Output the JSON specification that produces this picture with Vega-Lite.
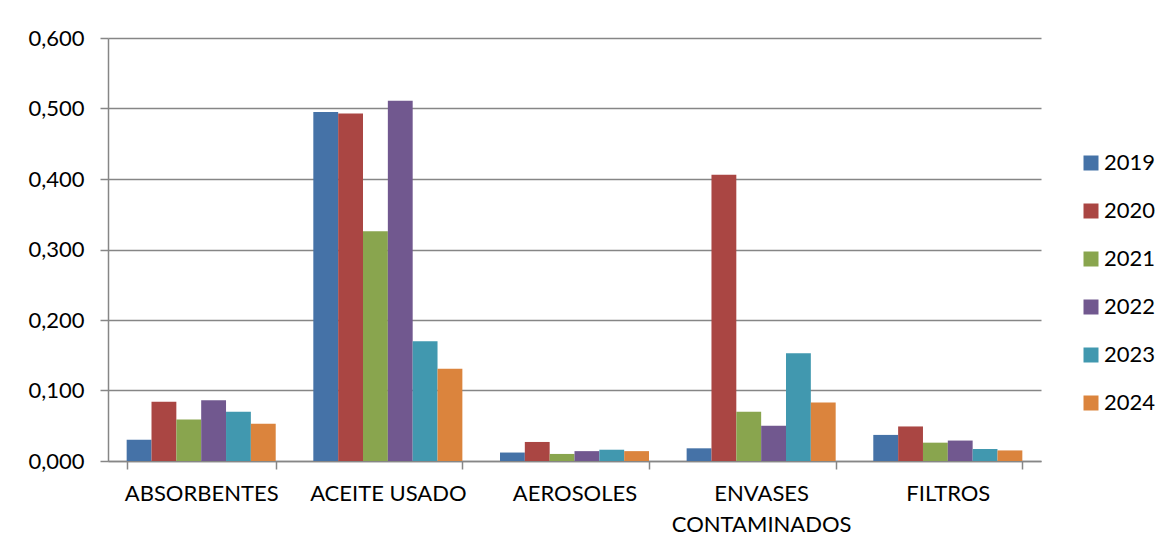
{
  "$schema": "https://vega.github.io/schema/vega-lite/v6.json",
  "width": 933,
  "height": 423,
  "autosize": {"type": "none"},
  "padding": {"left": 108, "top": 38, "right": 131, "bottom": 94},
  "background": "white",
  "config": {
    "locale": {"number": {"decimal": ",", "thousands": ".", "grouping": [3], "currency": ["", "€"]}},
    "view": {"stroke": null},
    "font": "Lato"
  },
  "data": {
    "values": [
      {"categoria": "ABSORBENTES", "anio": "2019", "valor": 0.030},
      {"categoria": "ABSORBENTES", "anio": "2020", "valor": 0.084},
      {"categoria": "ABSORBENTES", "anio": "2021", "valor": 0.059},
      {"categoria": "ABSORBENTES", "anio": "2022", "valor": 0.086},
      {"categoria": "ABSORBENTES", "anio": "2023", "valor": 0.070},
      {"categoria": "ABSORBENTES", "anio": "2024", "valor": 0.053},
      {"categoria": "ACEITE USADO", "anio": "2019", "valor": 0.495},
      {"categoria": "ACEITE USADO", "anio": "2020", "valor": 0.493},
      {"categoria": "ACEITE USADO", "anio": "2021", "valor": 0.326},
      {"categoria": "ACEITE USADO", "anio": "2022", "valor": 0.511},
      {"categoria": "ACEITE USADO", "anio": "2023", "valor": 0.170},
      {"categoria": "ACEITE USADO", "anio": "2024", "valor": 0.131},
      {"categoria": "AEROSOLES", "anio": "2019", "valor": 0.012},
      {"categoria": "AEROSOLES", "anio": "2020", "valor": 0.027},
      {"categoria": "AEROSOLES", "anio": "2021", "valor": 0.010},
      {"categoria": "AEROSOLES", "anio": "2022", "valor": 0.014},
      {"categoria": "AEROSOLES", "anio": "2023", "valor": 0.016},
      {"categoria": "AEROSOLES", "anio": "2024", "valor": 0.014},
      {"categoria": "ENVASES CONTAMINADOS", "anio": "2019", "valor": 0.018},
      {"categoria": "ENVASES CONTAMINADOS", "anio": "2020", "valor": 0.406},
      {"categoria": "ENVASES CONTAMINADOS", "anio": "2021", "valor": 0.070},
      {"categoria": "ENVASES CONTAMINADOS", "anio": "2022", "valor": 0.050},
      {"categoria": "ENVASES CONTAMINADOS", "anio": "2023", "valor": 0.153},
      {"categoria": "ENVASES CONTAMINADOS", "anio": "2024", "valor": 0.083},
      {"categoria": "FILTROS", "anio": "2019", "valor": 0.037},
      {"categoria": "FILTROS", "anio": "2020", "valor": 0.049},
      {"categoria": "FILTROS", "anio": "2021", "valor": 0.026},
      {"categoria": "FILTROS", "anio": "2022", "valor": 0.029},
      {"categoria": "FILTROS", "anio": "2023", "valor": 0.017},
      {"categoria": "FILTROS", "anio": "2024", "valor": 0.015}
    ]
  },
  "mark": {"type": "bar"},
  "encoding": {
    "x": {
      "field": "categoria",
      "type": "nominal",
      "sort": null,
      "scale": {"paddingInner": 0.2015, "paddingOuter": 0.1},
      "axis": {
        "title": null,
        "labelAngle": 0,
        "labelFontSize": 22,
        "labelColor": "#000000",
        "labelFont": "Lato",
        "labelPadding": 14,
        "labelLimit": 300,
        "labelLineHeight": 31,
        "labelExpr": "datum.label == 'ENVASES CONTAMINADOS' ? ['ENVASES', 'CONTAMINADOS'] : datum.label",
        "tickBand": "extent",
        "tickSize": 8,
        "tickColor": "#868686",
        "tickWidth": 1.5,
        "domainColor": "#868686",
        "domainWidth": 1.5,
        "grid": false
      }
    },
    "xOffset": {"field": "anio", "type": "nominal", "scale": {"paddingInner": 0, "paddingOuter": 0}},
    "y": {
      "field": "valor",
      "type": "quantitative",
      "scale": {"domain": [0, 0.6], "nice": false},
      "axis": {
        "title": null,
        "format": ".3f",
        "values": [0, 0.1, 0.2, 0.3, 0.4, 0.5, 0.6],
        "labelFontSize": 22,
        "labelColor": "#000000",
        "labelFont": "Lato",
        "labelPadding": 16,
        "tickSize": 8,
        "tickColor": "#868686",
        "tickWidth": 1.5,
        "domainColor": "#868686",
        "domainWidth": 1.5,
        "grid": true,
        "gridColor": "#868686",
        "gridWidth": 1.5
      }
    },
    "color": {
      "field": "anio",
      "type": "nominal",
      "scale": {
        "domain": ["2019", "2020", "2021", "2022", "2023", "2024"],
        "range": ["#4572A7", "#AA4643", "#89A54E", "#71588F", "#4198AF", "#DB843D"]
      },
      "legend": {
        "title": null,
        "orient": "none",
        "legendX": 972,
        "legendY": 114,
        "symbolType": "square",
        "symbolSize": 225,
        "symbolStrokeWidth": 0,
        "symbolOpacity": 1,
        "labelFontSize": 22,
        "labelFont": "Lato",
        "labelColor": "#000000",
        "labelOffset": 2,
        "rowPadding": 26
      }
    }
  }
}
